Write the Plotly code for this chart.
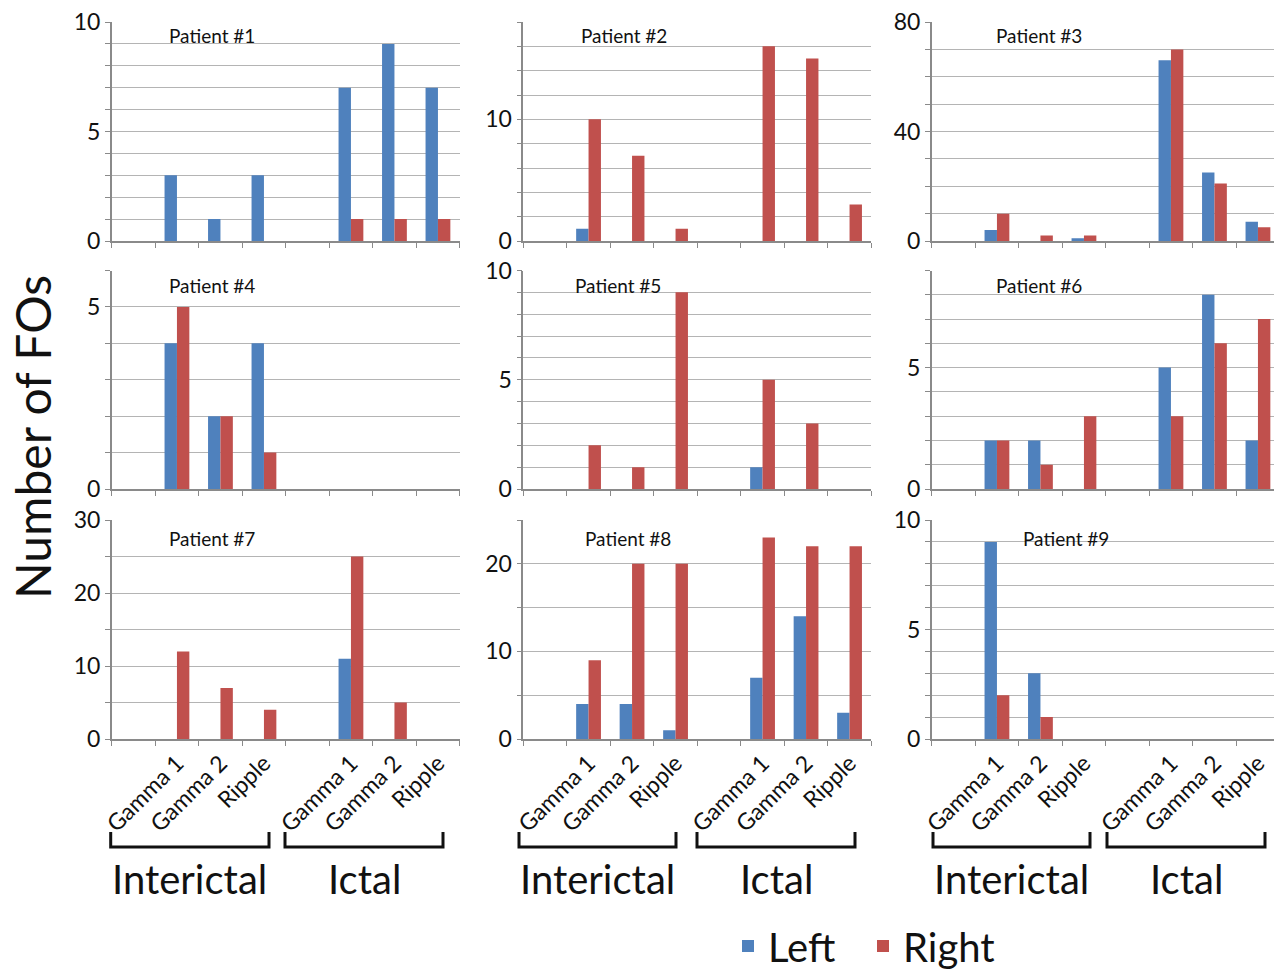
import plotly.graph_objects as go

# ---------------- data ----------------
patients = ["Patient #1", "Patient #2", "Patient #3", "Patient #4", "Patient #5",
            "Patient #6", "Patient #7", "Patient #8", "Patient #9"]
band_labels = ["Gamma 1", "Gamma 2", "Ripple", "Gamma 1", "Gamma 2", "Ripple"]
band_slots = [1, 2, 3, 5, 6, 7]          # slot 0 and 4 are empty category slots
left_counts = [
    [3, 1, 3, 7, 9, 7],
    [1, 0, 0, 0, 0, 0],
    [4, 0, 1, 66, 25, 7],
    [4, 2, 4, 0, 0, 0],
    [0, 0, 0, 1, 0, 0],
    [2, 2, 0, 5, 8, 2],
    [0, 0, 0, 11, 0, 0],
    [4, 4, 1, 7, 14, 3],
    [9, 3, 0, 0, 0, 0],
]
right_counts = [
    [0, 0, 0, 1, 1, 1],
    [10, 7, 1, 16, 15, 3],
    [10, 2, 2, 70, 21, 5],
    [5, 2, 1, 0, 0, 0],
    [2, 1, 9, 5, 3, 0],
    [2, 1, 3, 3, 6, 7],
    [12, 7, 4, 25, 5, 0],
    [9, 20, 20, 23, 22, 22],
    [2, 1, 0, 0, 0, 0],
]
y_max = [10, 18, 80, 6, 10, 9, 30, 25, 10]
y_label_step = [5, 10, 40, 5, 5, 5, 10, 10, 5]
y_grid_step = [1, 2, 10, 1, 1, 1, 5, 5, 1]
group_names = ["Interictal", "Ictal"]
series_names = ["Left", "Right"]

# ---------------- style / layout ----------------
W, H = 1274, 969
BLUE = "#4F81BD"
RED = "#C0504D"
FONT = "Lato"
GRID = "#b4b4b4"
AXIS = "#8a8a8a"

col_px = [(111.7, 459.7), (523.3, 871.3), (931.7, 1274.0)]
row_px = [(22, 241), (270.5, 489), (520, 739)]
slot_px = 43.5
label_px = [(167, 35), (579, 35), (994, 35), (167, 285), (573, 285), (994, 285),
            (167, 538), (583, 538), (1021, 538)]

fig = go.Figure()
layout = dict(
    width=W, height=H,
    margin=dict(l=0, r=0, t=0, b=0, autoexpand=False),
    paper_bgcolor="white", plot_bgcolor="white",
    barmode="group", bargap=0.43, bargroupgap=0.0,
    font=dict(family=FONT, color="#111"),
    showlegend=True,
    legend=dict(orientation="h", x=728 / W, xanchor="left", y=(H - 946) / H, yanchor="middle",
                font=dict(size=40, family=FONT, color="#111"), bgcolor="rgba(0,0,0,0)",
                itemwidth=30, tracegroupgap=0, entrywidth=90),
    annotations=[], shapes=[],
)

for i in range(9):
    r, c = divmod(i, 3)
    ax = "" if i == 0 else str(i + 1)
    xa, ya = "x" + ax, "y" + ax
    fig.add_trace(go.Bar(x=band_slots, y=left_counts[i], name=series_names[0],
                         marker=dict(color=BLUE, line=dict(width=0)),
                         xaxis=xa, yaxis=ya, showlegend=(i == 0), legendgroup="L"))
    fig.add_trace(go.Bar(x=band_slots, y=right_counts[i], name=series_names[1],
                         marker=dict(color=RED, line=dict(width=0)),
                         xaxis=xa, yaxis=ya, showlegend=(i == 0), legendgroup="R"))
    x0, x1 = col_px[c]
    y0, y1 = row_px[r]
    xr_hi = -0.5 + (x1 - x0) / slot_px
    layout["xaxis" + ax] = dict(
        domain=[x0 / W, x1 / W], anchor=ya, range=[-0.5, xr_hi],
        tickmode="array", tickvals=band_slots,
        ticktext=band_labels if r == 2 else [""] * 6,
        tickangle=-45, ticks="", showgrid=False, zeroline=False, automargin=False,
        showline=True, linecolor=AXIS, linewidth=1.5,
        tickfont=dict(size=23, family=FONT, color="#111"),
        minor=dict(tickmode="array", tickvals=[k + 0.5 for k in range(-1, 8)],
                   ticks="outside", ticklen=5, tickwidth=1.3, tickcolor=AXIS, showgrid=False),
        fixedrange=True,
    )
    layout["yaxis" + ax] = dict(
        domain=[1 - y1 / H, 1 - y0 / H], anchor=xa, range=[0, y_max[i]],
        tickmode="linear", tick0=0, dtick=y_label_step[i],
        ticks="outside", ticklen=5, tickwidth=1.3, tickcolor=AXIS, automargin=False,
        showgrid=True, gridcolor=GRID, gridwidth=1.3, zeroline=False,
        showline=True, linecolor=AXIS, linewidth=1.5,
        tickfont=dict(size=23, family=FONT, color="#111"),
        minor=dict(dtick=y_grid_step[i], tick0=0, ticks="outside", ticklen=5, tickwidth=1.3,
                   tickcolor=AXIS, showgrid=True, gridcolor=GRID, gridwidth=1.3),
        fixedrange=True,
    )
    lx, ly = label_px[i]
    layout["annotations"].append(dict(
        text=patients[i], x=lx / W, y=1 - ly / H, xref="paper", yref="paper",
        xanchor="left", yanchor="middle", showarrow=False,
        font=dict(size=19, family=FONT, color="#111")))

# brackets and group labels below bottom row
brackets = [[(110.7, 269), (285, 443)], [(519, 676), (697, 855)], [(933, 1090), (1107, 1265)]]
for c in range(3):
    for g in range(2):
        bx0, bx1 = brackets[c][g]
        yt, yb = 832, 847
        path = (f"M {bx0/W} {1-yt/H} L {bx0/W} {1-yb/H} L {bx1/W} {1-yb/H} L {bx1/W} {1-yt/H}")
        layout["shapes"].append(dict(type="path", path=path, xref="paper", yref="paper",
                                     line=dict(color="#111", width=3)))
        layout["annotations"].append(dict(
            text=group_names[g], x=(bx0 + bx1) / 2 / W, y=1 - 879 / H,
            xref="paper", yref="paper", xanchor="center", yanchor="middle",
            showarrow=False, font=dict(size=40, family=FONT, color="#111")))

layout["annotations"].append(dict(
    text="Number of FOs", x=33 / W, y=1 - 437 / H, xref="paper", yref="paper",
    xanchor="center", yanchor="middle", textangle=-90, showarrow=False,
    font=dict(size=48, family=FONT, color="#111")))

fig.update_layout(**layout)
fig.write_html("out.html", config={"displayModeBar": False},
               post_script="document.body.style.margin='0';document.body.style.padding='0';")
